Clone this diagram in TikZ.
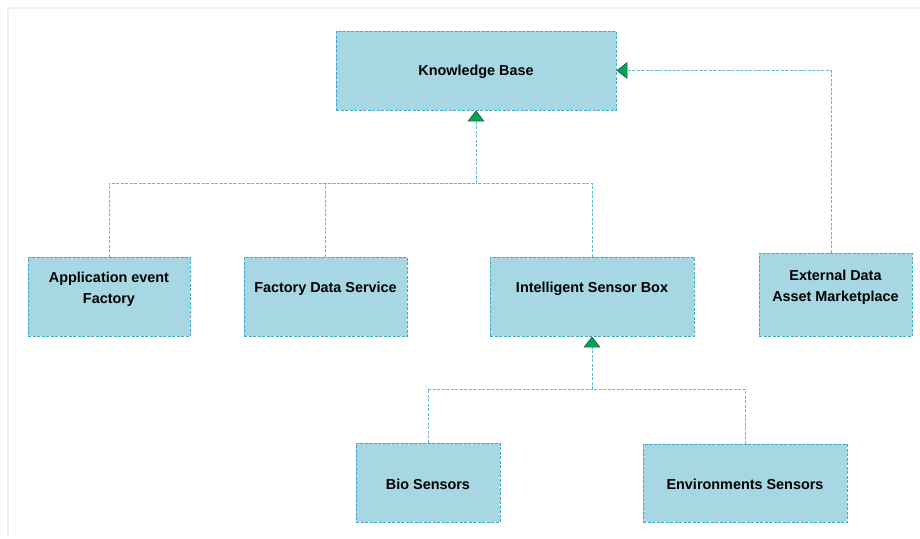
\documentclass[tikz,border=0pt]{standalone}
\usepackage{fontspec}
\setmainfont{Liberation Sans}
\usetikzlibrary{arrows.meta}
\definecolor{boxfill}{HTML}{A6D7E3}
\definecolor{boxline}{HTML}{3FA9C9}
\definecolor{connline}{HTML}{62BBD3}
\definecolor{tipgreen}{HTML}{00A651}
\definecolor{tipedge}{HTML}{3A4E5C}
\tikzset{
  box/.style={draw=boxline, fill=boxfill, line width=0.9pt, dash pattern=on 3pt off 1.5pt,
    inner sep=0pt},
  lbl/.style={font=\fontsize{14.4}{21}\selectfont\bfseries, align=center},
  conn/.style={draw=connline, line width=1pt, dash pattern=on 3pt off 1.5pt},
  gtip/.style={-{Triangle[width=17pt,length=11pt,fill=tipgreen,color=tipedge,line width=0.6pt]}}
}
\begin{document}
\begin{tikzpicture}[x=1pt,y=-1pt]
\useasboundingbox (0,0) rectangle (920,538);
\draw[gray!12, line width=1.5pt] (8,538) -- (8,8) -- (920,8);
% nodes
\node[box, minimum width=280pt, minimum height=79pt,
  label={[lbl,yshift=-1.5pt]center:Knowledge Base}] (kb) at (476,70.5) {};
\node[box, minimum width=162pt, minimum height=79pt,
  label={[lbl,yshift=7pt]center:Application event\\Factory}] (app) at (109,296.5) {};
\node[box, minimum width=163pt, minimum height=79pt,
  label={[lbl,yshift=7.5pt]center:Factory Data Service}] (fds) at (325.5,296.5) {};
\node[box, minimum width=204pt, minimum height=79pt,
  label={[lbl,yshift=7.5pt]center:Intelligent Sensor Box}] (isb) at (592,296.5) {};
\node[box, minimum width=153pt, minimum height=83pt,
  label={[lbl,yshift=7pt]center:External Data\\Asset Marketplace}] (ext) at (835.5,294.5) {};
\node[box, minimum width=144pt, minimum height=79pt,
  label={[lbl,yshift=-1.5pt]center:Bio Sensors}] (bio) at (428,482.5) {};
\node[box, minimum width=204pt, minimum height=78pt,
  label={[lbl,yshift=-1.5pt]center:Environments Sensors}] (env) at (745,483) {};
% connectors
\coordinate (bus1) at (476,183);
\coordinate (bus2) at (592,389);
\draw[conn] (app.north) |- (bus1);
\draw[conn] (fds.north) |- (bus1);
\draw[conn] (isb.north) |- (bus1);
\draw[conn,gtip] (bus1) -- (kb.south);
\draw[conn,gtip] ([xshift=-4.5pt]ext.north) |- (kb.east);
\draw[conn] (bio.north) |- (bus2);
\draw[conn] (env.north) |- (bus2);
\draw[conn,gtip] (bus2) -- (isb.south);
\end{tikzpicture}
\end{document}
